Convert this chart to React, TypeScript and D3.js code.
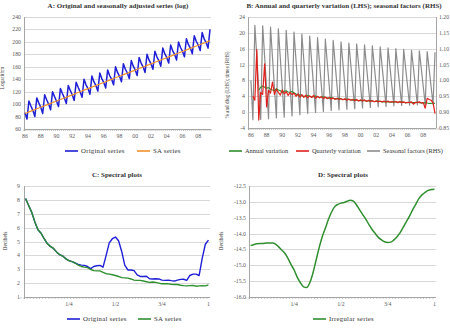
import { useEffect, useRef } from 'react';
import * as d3 from 'd3';

// quarterly data, 1986Q1 .. 2009Q3
const yearLabels = ['86', '88', '90', '92', '94', '96', '98', '00', '02', '04', '06', '08'];

const originalSeries = [
  86, 76, 105, 97, 90, 80, 110, 102, 95, 85, 115, 107, 100, 91, 120, 112,
  105, 96, 125, 117, 110, 101, 130, 122, 115, 106, 135, 127, 120, 111, 140, 131,
  125, 116, 145, 136, 130, 121, 150, 141, 135, 126, 155, 146, 140, 131, 160, 151,
  145, 136, 165, 156, 150, 141, 170, 161, 155, 146, 175, 166, 160, 151, 180, 171,
  165, 156, 185, 176, 170, 161, 190, 181, 175, 166, 195, 186, 180, 171, 200, 191,
  185, 176, 205, 196, 190, 181, 210, 201, 195, 186, 215, 205, 199, 190, 220,
];

const saSeries = [
  85.0, 86.2, 87.5, 88.7, 90.0, 91.2, 92.5, 93.7, 95.0, 96.2, 97.4, 98.7, 99.9, 101.2, 102.4, 103.7,
  104.9, 106.2, 107.4, 108.7, 109.9, 111.1, 112.4, 113.6, 114.9, 116.1, 117.4, 118.6, 119.9, 121.1, 122.4, 123.6,
  124.8, 126.1, 127.3, 128.6, 129.8, 131.1, 132.3, 133.6, 134.8, 136.0, 137.3, 138.5, 139.8, 141.0, 142.3, 143.5,
  144.8, 146.0, 147.3, 148.5, 149.7, 151.0, 152.2, 153.5, 154.7, 156.0, 157.2, 158.5, 159.7, 160.9, 162.2, 163.4,
  164.7, 165.9, 167.2, 168.4, 169.7, 170.9, 172.1, 173.4, 174.6, 175.9, 177.1, 178.4, 179.6, 180.9, 182.1, 183.4,
  184.6, 185.8, 187.1, 188.3, 189.6, 190.8, 192.1, 193.3, 194.6, 195.8, 197.0, 198.3, 199.5, 200.8, 202.0,
];

const seasonalFactors = [
  1.000, 0.876, 1.174, 1.075, 0.976, 0.877, 1.172, 1.074, 0.977, 0.879, 1.168, 1.073,
  0.977, 0.882, 1.163, 1.070, 0.977, 0.884, 1.158, 1.068, 0.978, 0.888, 1.152, 1.065,
  0.979, 0.892, 1.146, 1.063, 0.979, 0.896, 1.140, 1.060, 0.980, 0.899, 1.135, 1.057,
  0.980, 0.902, 1.130, 1.055, 0.980, 0.905, 1.126, 1.053, 0.980, 0.907, 1.122, 1.051,
  0.980, 0.909, 1.118, 1.049, 0.980, 0.911, 1.115, 1.048, 0.980, 0.913, 1.112, 1.046,
  0.981, 0.915, 1.109, 1.045, 0.981, 0.917, 1.106, 1.043, 0.981, 0.918, 1.103, 1.042,
  0.981, 0.920, 1.100, 1.040, 0.981, 0.921, 1.098, 1.039, 0.981, 0.922, 1.095, 1.038,
  0.980, 0.923, 1.093, 1.037, 0.980, 0.924, 1.091, 1.036, 0.980, 0.925, 1.089,
];

const annualVariation = [
  null, null, null, null,
  5.6, 6.3, 6.6, 6.3, 6.0, 6.2, 5.8, 5.6, 5.5, 5.9, 5.6, 5.4, 5.0, 5.3, 5.4, 5.1,
  5.0, 5.2, 4.9, 4.6, 4.3, 4.4, 4.1, 4.0, 3.9, 4.2, 4.0, 3.8, 3.9, 4.1, 3.9, 3.7,
  3.8, 3.9, 3.7, 3.6, 3.5, 3.7, 3.5, 3.4, 3.3, 3.5, 3.3, 3.2, 3.2, 3.3, 3.2, 3.1,
  3.0, 3.2, 3.0, 2.9, 2.9, 3.0, 2.9, 2.8, 2.8, 2.9, 2.8, 2.7, 2.7, 2.8, 2.7, 2.6,
  2.6, 2.7, 2.6, 2.5, 2.5, 2.6, 2.6, 2.5, 2.5, 2.6, 2.5, 2.4, 2.4, 2.5, 2.4, 2.4,
  2.4, 2.5, 2.4, 2.3, 2.3, 2.4, 2.3, 2.2, 2.2, 2.3, 2.2,
];

const quarterlyVariation = [
  null,
  4.0, 3.0, 15.8, -2.0, 5.0, 4.5, 12.2, 1.3, 5.5, 4.8, 7.6, 4.5, 5.8, 5.0, 4.3, 5.6, 4.6, 5.2, 4.2, 5.0,
  4.4, 4.8, 4.0, 4.6, 3.8, 4.4, 3.7, 4.3, 3.6, 4.1, 3.7, 4.2, 3.5, 4.0, 3.6, 3.9, 3.4, 3.8, 3.4, 3.7,
  3.3, 3.6, 3.2, 3.5, 3.2, 3.4, 3.1, 3.4, 3.0, 3.3, 3.0, 3.2, 2.9, 3.2, 2.8, 3.1, 2.8, 3.1, 2.7, 3.0,
  2.7, 2.9, 2.6, 2.9, 2.6, 2.8, 2.6, 2.8, 2.5, 2.8, 2.5, 2.7, 2.5, 2.7, 2.4, 2.7, 2.4, 2.6, 2.3, 2.5,
  2.4, 2.6, 2.0, 2.5, 2.4, 2.6, 2.3, 2.4, 1.0, 3.5, 3.2, 3.0, 2.4, -0.4,
];

// spectra, frequencies k/60 for k = 1..60
const freqLabels = ['1/4', '1/2', '3/4', '1'];

const spectrumOriginal = [
  8.1, 7.6, 7.1, 6.4, 5.85, 5.6, 5.2, 4.85, 4.65, 4.5, 4.25, 4.05, 3.95, 3.75, 3.62,
  3.55, 3.45, 3.35, 3.3, 3.28, 3.2, 3.05, 3.2, 3.25, 3.28, 3.15, 4.0, 4.9, 5.2, 5.32,
  5.05, 4.3, 3.3, 2.95, 2.95, 2.9, 2.6, 2.48, 2.48, 2.5, 2.32, 2.3, 2.32, 2.3, 2.22,
  2.2, 2.22, 2.18, 2.15, 2.22, 2.27, 2.28, 2.2, 2.55, 2.65, 2.65, 2.55, 3.8, 4.8, 5.1,
];

const spectrumSA = [
  8.1, 7.6, 7.1, 6.4, 5.85, 5.6, 5.2, 4.85, 4.65, 4.5, 4.25, 4.05, 3.95, 3.75, 3.62,
  3.55, 3.45, 3.3, 3.2, 3.15, 3.12, 2.98, 2.9, 2.88, 2.88, 2.78, 2.68, 2.65, 2.6, 2.55,
  2.48, 2.4, 2.38, 2.36, 2.3, 2.22, 2.2, 2.2, 2.15, 2.1, 2.05, 2.08, 2.05, 2.0, 1.95,
  1.96, 1.95, 1.92, 1.9, 1.9, 1.85, 1.82, 1.8, 1.82, 1.83, 1.78, 1.8, 1.82, 1.8, 1.88,
];

const spectrumIrregular = [
  -14.38, -14.35, -14.32, -14.31, -14.31, -14.3, -14.3, -14.3, -14.33, -14.42,
  -14.52, -14.62, -14.78, -14.98, -15.15, -15.38, -15.55, -15.68, -15.7, -15.55,
  -15.25, -14.85, -14.45, -14.1, -13.83, -13.55, -13.32, -13.15, -13.08, -13.04,
  -13.02, -12.98, -12.95, -12.98, -13.1, -13.25, -13.4, -13.55, -13.72, -13.87,
  -14.0, -14.12, -14.2, -14.26, -14.28, -14.27, -14.2, -14.1, -13.97, -13.8,
  -13.62, -13.45, -13.25, -13.08, -12.9, -12.78, -12.7, -12.64, -12.61, -12.6,
];

const FONT = '"Liberation Serif", "Times New Roman", serif';
const GRID = '#d9d9d9';
const AXIS = '#a6a6a6';
const TICK_TEXT = '#595959';

const BLUE = '#1f1fd6';
const ORANGE = '#f0902a';
const GREEN = '#2f8f2f';
const RED = '#e0201c';
const GREY = '#8c8c8c';

type Box = { left: number; right: number; top: number; bottom: number };

export default function App() {
  const svgRef = useRef<SVGSVGElement>(null);

  useEffect(() => {
    if (!svgRef.current) return;
    const svg = d3.select(svgRef.current);
    svg.selectAll('*').remove();
    svg.attr('font-family', FONT);

    const text = (x: number, y: number, s: string, size: number, anchor = 'middle', weight = 'normal', fill = '#333') =>
      svg.append('text')
        .attr('x', x).attr('y', y)
        .attr('text-anchor', anchor)
        .attr('font-size', size)
        .attr('font-weight', weight)
        .attr('fill', fill)
        .text(s);

    const vText = (x: number, y: number, s: string, size: number) =>
      svg.append('text')
        .attr('transform', `translate(${x},${y}) rotate(-90)`)
        .attr('text-anchor', 'middle')
        .attr('font-size', size)
        .attr('fill', '#404040')
        .text(s);

    const grid = (box: Box, y: d3.ScaleLinear<number, number>, ticks: number[]) => {
      svg.append('g').selectAll('line').data(ticks).join('line')
        .attr('x1', box.left).attr('x2', box.right)
        .attr('y1', d => Math.round(y(d)) + 0.5).attr('y2', d => Math.round(y(d)) + 0.5)
        .attr('stroke', GRID).attr('stroke-width', 1);
    };

    const yLabels = (x: number, anchor: string, y: d3.ScaleLinear<number, number>, ticks: number[], fmt: (v: number) => string) => {
      svg.append('g').selectAll('text').data(ticks).join('text')
        .attr('x', x).attr('y', d => y(d)).attr('dy', '0.35em')
        .attr('text-anchor', anchor)
        .attr('font-size', 5.8).attr('fill', TICK_TEXT)
        .text(d => fmt(d));
    };

    const xAxis = (box: Box, x: d3.ScaleLinear<number, number>, n: number, labels: { at: number; s: string }[]) => {
      svg.append('line')
        .attr('x1', box.left).attr('x2', box.right)
        .attr('y1', box.bottom + 0.5).attr('y2', box.bottom + 0.5)
        .attr('stroke', AXIS);
      svg.append('line')
        .attr('x1', box.left + 0.5).attr('x2', box.left + 0.5)
        .attr('y1', box.top).attr('y2', box.bottom + 2)
        .attr('stroke', AXIS);
      svg.append('g').selectAll('line').data(d3.range(0, n + 1)).join('line')
        .attr('x1', d => x(d - 0.5)).attr('x2', d => x(d - 0.5))
        .attr('y1', box.bottom).attr('y2', box.bottom + 2)
        .attr('stroke', AXIS).attr('stroke-width', 0.6);
      svg.append('g').selectAll('text').data(labels).join('text')
        .attr('x', d => x(d.at)).attr('y', box.bottom + 8.5)
        .attr('text-anchor', 'middle')
        .attr('font-size', 5.8).attr('fill', TICK_TEXT)
        .text(d => d.s);
    };

    const path = (data: (number | null)[], x: d3.ScaleLinear<number, number>, y: d3.ScaleLinear<number, number>, color: string, w: number, offset = 0) => {
      const line = d3.line<number | null>()
        .defined(d => d != null)
        .x((_, i) => x(i + offset))
        .y(d => y(d as number));
      svg.append('path')
        .attr('d', line(data))
        .attr('fill', 'none')
        .attr('stroke', color)
        .attr('stroke-width', w)
        .attr('stroke-linejoin', 'round');
    };

    const legend = (y: number, items: { x: number; color: string; s: string }[], size = 6.8, spacing = 0.25) => {
      items.forEach(it => {
        svg.append('line')
          .attr('x1', it.x).attr('x2', it.x + 13)
          .attr('y1', y).attr('y2', y)
          .attr('stroke', it.color).attr('stroke-width', 1.6);
        text(it.x + 16, y + 2.2, it.s, size, 'start', 'normal', '#333')
          .attr('letter-spacing', spacing);
      });
    };

    const nQ = originalSeries.length;

    // ---- A
    const boxA = { left: 24, right: 211, top: 17, bottom: 129 };
    const xA = d3.scaleLinear().domain([-0.5, nQ - 0.5]).range([boxA.left, boxA.right]);
    const yA = d3.scaleLinear().domain([60, 240]).range([boxA.bottom, boxA.top]);
    const ticksA = d3.range(60, 241, 20);
    grid(boxA, yA, ticksA);
    yLabels(boxA.left - 3, 'end', yA, ticksA, d => String(d));
    xAxis(boxA, xA, nQ, yearLabels.map((s, j) => ({ at: j * 8, s })));
    path(originalSeries, xA, yA, BLUE, 1.5);
    path(saSeries, xA, yA, ORANGE, 1.2);
    text(118, 8, 'A: Original and seasonally adjusted series (log)', 7, 'middle', 'bold');
    vText(4, 78, 'Logarithm', 5.4);
    legend(151, [
      { x: 65, color: BLUE, s: 'Original series' },
      { x: 137, color: ORANGE, s: 'SA series' },
    ]);

    // ---- B
    const boxB = { left: 248, right: 436, top: 17, bottom: 128 };
    const xB = d3.scaleLinear().domain([-1.5, nQ - 0.5]).range([boxB.left, boxB.right]);
    const yB = d3.scaleLinear().domain([-4, 24]).range([boxB.bottom, boxB.top]);
    const yBr = d3.scaleLinear().domain([0.85, 1.2]).range([boxB.bottom, boxB.top]);
    const ticksB = d3.range(-4, 25, 4);
    grid(boxB, yB, ticksB);
    yLabels(boxB.left - 3, 'end', yB, ticksB, d => String(d));
    yLabels(boxB.right + 3, 'start', yBr, d3.range(0, 8).map(k => 0.85 + k * 0.05), d => d.toFixed(2));
    svg.append('line')
      .attr('x1', boxB.right + 0.5).attr('x2', boxB.right + 0.5)
      .attr('y1', boxB.top).attr('y2', boxB.bottom)
      .attr('stroke', AXIS);
    xAxis(boxB, xB, nQ + 1, yearLabels.map((s, j) => ({ at: j * 8, s })));
    path(seasonalFactors, xB, yBr, GREY, 1.2);
    path(annualVariation, xB, yB, GREEN, 1.1);
    path(quarterlyVariation, xB, yB, RED, 1.2);
    text(344, 8, 'B: Annual and quarterly variation (LHS); seasonal factors (RHS)', 7, 'middle', 'bold');
    vText(229, 85, '% and dlog (LHS); times (RHS)', 5.2);
    legend(151, [
      { x: 229, color: GREEN, s: 'Annual variation' },
      { x: 296, color: RED, s: 'Quarterly variation' },
      { x: 367, color: GREY, s: 'Seasonal factors (RHS)' },
    ], 6.4, 0);

    // ---- C
    const nF = spectrumOriginal.length;
    const boxC = { left: 24, right: 210, top: 186, bottom: 297 };
    const xC = d3.scaleLinear().domain([0.5, nF + 0.5]).range([boxC.left, boxC.right]);
    const yC = d3.scaleLinear().domain([1, 9]).range([boxC.bottom, boxC.top]);
    const ticksC = d3.range(1, 10);
    grid(boxC, yC, ticksC);
    yLabels(boxC.left - 4, 'end', yC, ticksC, d => String(d));
    xAxis(boxC, xC, nF, freqLabels.map((s, j) => ({ at: (j + 1) * 15, s })));
    path(spectrumOriginal, xC, yC, BLUE, 1.4, 1);
    path(spectrumSA, xC, yC, GREEN, 1.4, 1);
    text(117, 177, 'C: Spectral plots', 7, 'middle', 'bold');
    vText(7, 241, 'Decibels', 5.4);
    legend(319, [
      { x: 67, color: BLUE, s: 'Original series' },
      { x: 138, color: GREEN, s: 'SA series' },
    ]);

    // ---- D
    const boxD = { left: 249, right: 436, top: 186, bottom: 297 };
    const xD = d3.scaleLinear().domain([0.5, nF + 0.5]).range([boxD.left, boxD.right]);
    const yD = d3.scaleLinear().domain([-16, -12.5]).range([boxD.bottom, boxD.top]);
    const ticksD = d3.range(0, 8).map(k => -16 + k * 0.5);
    grid(boxD, yD, ticksD);
    yLabels(boxD.left - 3, 'end', yD, ticksD, d => d.toFixed(1));
    xAxis(boxD, xD, nF, freqLabels.map((s, j) => ({ at: (j + 1) * 15, s })));
    const lineD = d3.line<number>()
      .x((_, i) => xD(i + 1))
      .y(d => yD(d))
      .curve(d3.curveMonotoneX);
    svg.append('path')
      .attr('d', lineD(spectrumIrregular))
      .attr('fill', 'none')
      .attr('stroke', GREEN)
      .attr('stroke-width', 1.5);
    text(343, 177, 'D: Spectral plots', 7, 'middle', 'bold');
    vText(223, 241, 'Decibels', 5.4);
    legend(319, [
      { x: 313, color: GREEN, s: 'Irregular series' },
    ]);
  }, []);

  return (
    <svg
      ref={svgRef}
      width={450}
      height={328}
      style={{ position: 'absolute', left: 0, top: 0, background: '#fff' }}
    />
  );
}
